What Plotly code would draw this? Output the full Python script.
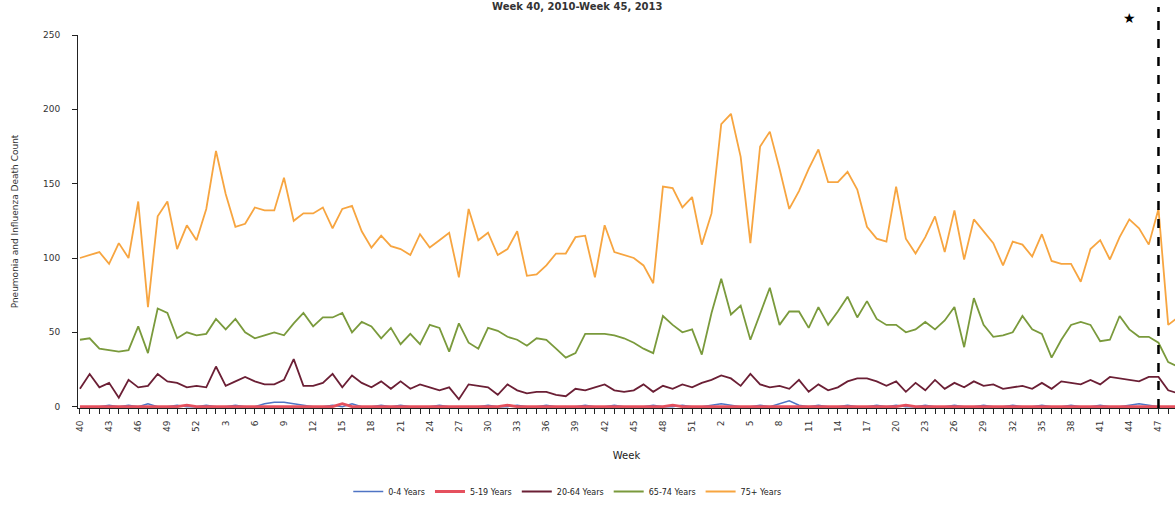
import plotly.graph_objects as go

week_labels = [40, 41, 42, 43, 44, 45, 46, 47, 48, 49, 50, 51, 52] + list(range(1, 53)) + list(range(1, 53))
week_labels = week_labels[:114]
idx = list(range(114))

age_0_4 = [0, 0, 0, 1, 0, 1, 0, 2, 0, 0, 1, 0, 0, 1, 0, 0, 1, 0, 0, 2,
           3, 3, 2, 1, 0, 0, 1, 0, 2, 0, 0, 1, 0, 1, 0, 0, 0, 1, 0, 0,
           0, 0, 1, 0, 0, 1, 0, 0, 1, 0, 0, 0, 1, 0, 0, 1, 0, 0, 0, 1,
           0, 0, 1, 0, 0, 1, 2, 1, 0, 0, 1, 0, 2, 4, 1, 0, 1, 0, 0, 1,
           0, 0, 1, 0, 1, 0, 0, 1, 0, 0, 1, 0, 0, 1, 0, 0, 1, 0, 0, 1,
           0, 0, 1, 0, 0, 1, 0, 0, 1, 2, 1, 0, 0, 0]
age_5_19 = [0, 0, 0, 0, 0, 0, 0, 0, 0, 0, 0, 1, 0, 0, 0, 0, 0, 0, 0, 0,
            0, 0, 0, 0, 0, 0, 0, 2, 0, 0, 0, 0, 0, 0, 0, 0, 0, 0, 0, 0,
            0, 0, 0, 0, 1, 0, 0, 0, 0, 0, 0, 0, 0, 0, 0, 0, 0, 0, 0, 0,
            0, 1, 0, 0, 0, 0, 0, 0, 0, 0, 0, 0, 0, 0, 0, 0, 0, 0, 0, 0,
            0, 0, 0, 0, 0, 1, 0, 0, 0, 0, 0, 0, 0, 0, 0, 0, 0, 0, 0, 0,
            0, 0, 0, 0, 0, 0, 0, 0, 0, 0, 0, 0, 0, 0]
age_20_64 = [12, 22, 13, 16, 6, 18, 13, 14, 22, 17, 16, 13, 14, 13, 27, 14, 17, 20, 17, 15,
             15, 18, 32, 14, 14, 16, 22, 13, 21, 16, 13, 17, 12, 17, 12, 15, 13, 11, 13, 5,
             15, 14, 13, 8, 15, 11, 9, 10, 10, 8, 7, 12, 11, 13, 15, 11, 10, 11, 15, 10,
             14, 12, 15, 13, 16, 18, 21, 19, 14, 22, 15, 13, 14, 12, 18, 10, 15, 11, 13, 17,
             19, 19, 17, 14, 17, 10, 16, 11, 18, 12, 16, 13, 17, 14, 15, 12, 13, 14, 12, 16,
             12, 17, 16, 15, 18, 15, 20, 19, 18, 17, 20, 20, 11, 9]
age_65_74 = [45, 46, 39, 38, 37, 38, 54, 36, 66, 63, 46, 50, 48, 49, 59, 52, 59, 50, 46, 48,
             50, 48, 56, 63, 54, 60, 60, 63, 50, 57, 54, 46, 53, 42, 49, 42, 55, 53, 37, 56,
             43, 39, 53, 51, 47, 45, 41, 46, 45, 39, 33, 36, 49, 49, 49, 48, 46, 43, 39, 36,
             61, 55, 50, 52, 35, 63, 86, 62, 68, 45, 62, 80, 55, 64, 64, 53, 67, 55, 64, 74,
             60, 71, 59, 55, 55, 50, 52, 57, 52, 58, 67, 40, 73, 55, 47, 48, 50, 61, 52, 49,
             33, 45, 55, 57, 55, 44, 45, 61, 52, 47, 47, 43, 30, 27]
age_75p = [100, 102, 104, 96, 110, 100, 138, 67, 128, 138, 106, 122, 112, 133, 172, 143, 121, 123, 134, 132,
           132, 154, 125, 130, 130, 134, 120, 133, 135, 118, 107, 115, 108, 106, 102, 116, 107, 112, 117, 87,
           133, 112, 117, 102, 106, 118, 88, 89, 95, 103, 103, 114, 115, 87, 122, 104, 102, 100, 95, 83,
           148, 147, 134, 141, 109, 130, 190, 197, 168, 110, 175, 185, 160, 133, 145, 160, 173, 151, 151, 158,
           146, 121, 113, 111, 148, 113, 103, 114, 128, 104, 132, 99, 126, 118, 110, 95, 111, 109, 101, 116,
           98, 96, 96, 84, 106, 112, 99, 114, 126, 120, 109, 133, 55, 60]

series_names = ["0-4 Years", "5-19 Years", "20-64 Years", "65-74 Years", "75+ Years"]
series_vals = [age_0_4, age_5_19, age_20_64, age_65_74, age_75p]
series_colors = ["#4F74C4", "#E5505E", "#6B1F35", "#7A9A3C", "#F7A540"]
series_widths = [1.5, 2.8, 1.8, 1.8, 1.8]

fig = go.Figure()
for name, vals, col, w in zip(series_names, series_vals, series_colors, series_widths):
    fig.add_trace(go.Scatter(x=idx, y=vals, mode="lines", name=name,
                             line=dict(color=col, width=w)))

tick_idx = list(range(0, 112, 3))
tick_txt = [str(week_labels[i]) for i in tick_idx]

font_family = "DejaVu Sans, Arial, sans-serif"

fig.update_layout(
    width=1175, height=506,
    margin=dict(l=78, r=0, t=35, b=97),
    paper_bgcolor="white", plot_bgcolor="white",
    font=dict(family=font_family, size=9, color="#222"),
    showlegend=True,
    legend=dict(orientation="h", x=0.446, xanchor="center", y=-0.224, yanchor="middle",
                font=dict(size=8, color="#222"), itemwidth=30, tracegroupgap=0),
    xaxis=dict(range=[-0.2, 112.7], tickmode="array", tickvals=tick_idx, ticktext=tick_txt,
               tickangle=-90, ticks="outside", ticklen=5, tickcolor="#222",
               showline=True, linecolor="#222", linewidth=1, showgrid=False, zeroline=False,
               layer="below traces",
               tickfont=dict(size=9, color="#333"), ticklabelstandoff=3,
               minor=dict(tickmode="linear", tick0=0, dtick=1, ticks="outside", ticklen=5, tickcolor="#222"),
               title=dict(text="Week", font=dict(size=10, color="#222"), standoff=20)),
    yaxis=dict(range=[-0.9, 250], tickmode="linear", tick0=0, dtick=50,
               ticks="outside", ticklen=5, tickcolor="#222",
               showline=True, linecolor="#222", linewidth=1, showgrid=False, zeroline=False,
               tickfont=dict(size=9, color="#333"), ticklabelstandoff=10,
               title=dict(text="Pneumonia and Influenza Death Count", font=dict(size=9, color="#333"), standoff=22)),
)

fig.add_shape(type="line", xref="x", yref="paper", x0=111, x1=111, y0=0, y1=1.075,
              line=dict(color="black", width=2.5, dash="dash"))
fig.add_annotation(xref="x", yref="paper", x=108, y=1.045, text="★", showarrow=False,
                   font=dict(size=14, color="black"), xanchor="center", yanchor="middle")
fig.add_annotation(xref="paper", yref="paper", x=0.455, y=1.076, text="<b>Week 40, 2010-Week 45, 2013</b>",
                   showarrow=False, font=dict(size=10, color="#333"), xanchor="center", yanchor="middle")

fig.write_html("out.html")
